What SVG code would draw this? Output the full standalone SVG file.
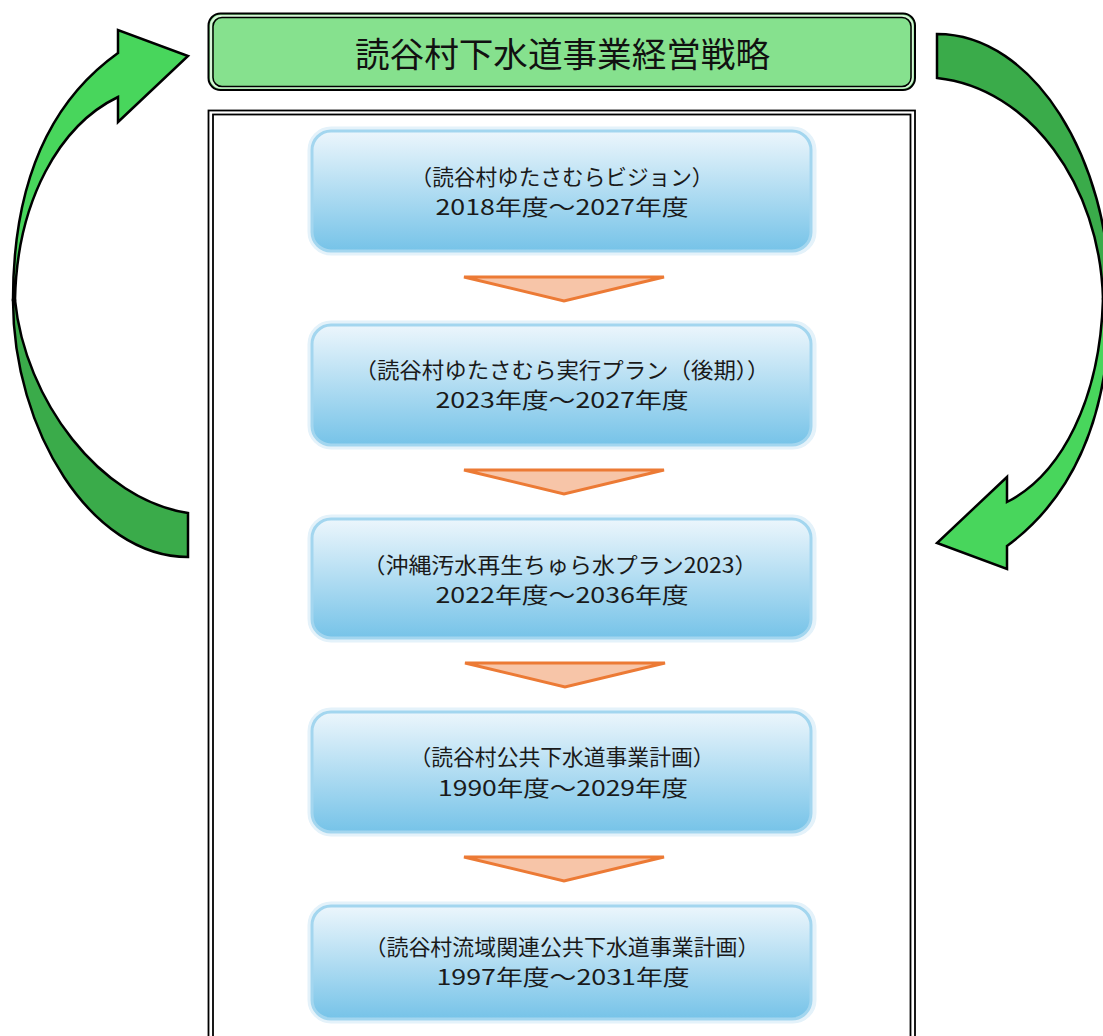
<svg xmlns="http://www.w3.org/2000/svg" width="1103" height="1036" viewBox="0 0 1103 1036">
<defs>
<linearGradient id="bg" x1="0" y1="0" x2="0" y2="1">
<stop offset="0" stop-color="#ecf6fc"/>
<stop offset="1" stop-color="#76c3e8"/>
</linearGradient>
<style>
.glow{fill:none;stroke:#e4f2fa;stroke-width:7}
.box{fill:url(#bg);stroke:#a3d6ef;stroke-width:3}
.t1{font-family:"Noto Sans CJK JP","Noto Sans",sans-serif;font-size:21.5px;fill:#1a1a1a;text-anchor:middle}
.tri{fill:#f7c5a8;stroke:#ec7a35;stroke-width:3;stroke-linejoin:miter}
.frame{fill:none;stroke:#000;stroke-width:1.8}
.arrL{fill:#48d65c;stroke:#000;stroke-width:2.5;stroke-linejoin:miter}
.arrD{fill:#3aab4a;stroke:#000;stroke-width:2.5;stroke-linejoin:miter}
</style>
</defs>
<rect width="1103" height="1036" fill="#fff"/>

<g id="frame">
<rect class="frame" x="208.5" y="110.5" width="706.5" height="940"/>
<rect class="frame" x="213" y="114.5" width="697.5" height="940"/>
</g>

<g id="cycle-arrows">
<g id="arrow-left">
<path class="arrD" d="M 13,300 C 13,430 91,557 188,557 L 188,513 C 100,500 25,400 15,300 Z"/>
<path class="arrL" d="M 118,53 L 118,30 L 188,56 L 118,122 L 118,97 C 60,125 17,200 15,300 L 13,300 C 13,190 45,105 118,53 Z"/>
</g>
<g id="arrow-right">
<path class="arrD" d="M 1110,299 C 1110,160 1034,34 937,34 L 937,78 C 1030,88 1100,185 1103,299 Z"/>
<path class="arrL" d="M 1007,546 L 1007,569 L 937,543 L 1007,477 L 1007,502 C 1062,474 1100,399 1103,299 L 1110,299 C 1110,420 1072,498 1007,546 Z"/>
</g>
</g>

<g id="title">
<rect x="208.5" y="13.5" width="706.5" height="76.5" rx="12" fill="#86e18e" stroke="#000" stroke-width="2"/>
<rect x="211" y="16" width="701.5" height="71.5" rx="10" fill="none" stroke="#d8f5d8" stroke-width="2"/>
<rect x="213" y="17.5" width="698" height="69" rx="9" fill="none" stroke="#000" stroke-width="1.5"/>
<text x="562.5" y="67" font-family="'Noto Sans CJK JP','Noto Sans',sans-serif" font-size="34" fill="#111" text-anchor="middle" textLength="415" lengthAdjust="spacingAndGlyphs">読谷村下水道事業経営戦略</text>
</g>

<g id="node1">
<rect class="glow" x="311" y="130" width="502" height="122" rx="20"/>
<rect class="box" x="312" y="131" width="499" height="120" rx="19"/>
<text class="t1" x="562" y="185" textLength="303" lengthAdjust="spacingAndGlyphs">（読谷村ゆたさむらビジョン）</text>
<text class="t1" x="562" y="215" textLength="253" lengthAdjust="spacingAndGlyphs">2018年度～2027年度</text>
</g>

<g id="node2">
<rect class="glow" x="311" y="324" width="502" height="122" rx="20"/>
<rect class="box" x="312" y="325" width="499" height="120" rx="19"/>
<text class="t1" x="562" y="378" textLength="415" lengthAdjust="spacingAndGlyphs">（読谷村ゆたさむら実行プラン（後期））</text>
<text class="t1" x="562" y="408" textLength="253" lengthAdjust="spacingAndGlyphs">2023年度～2027年度</text>
</g>

<g id="node3">
<rect class="glow" x="311" y="518" width="502" height="121" rx="20"/>
<rect class="box" x="312" y="519" width="499" height="119" rx="19"/>
<text class="t1" x="560" y="573" textLength="395" lengthAdjust="spacingAndGlyphs">（沖縄汚水再生ちゅら水プラン2023）</text>
<text class="t1" x="562" y="603" textLength="253" lengthAdjust="spacingAndGlyphs">2022年度～2036年度</text>
</g>

<g id="node4">
<rect class="glow" x="311" y="711" width="502" height="122" rx="20"/>
<rect class="box" x="312" y="712" width="499" height="120" rx="19"/>
<text class="t1" x="562" y="765" textLength="305" lengthAdjust="spacingAndGlyphs">（読谷村公共下水道事業計画）</text>
<text class="t1" x="563" y="796" textLength="250" lengthAdjust="spacingAndGlyphs">1990年度～2029年度</text>
</g>

<g id="node5">
<rect class="glow" x="311" y="905" width="502" height="115" rx="20"/>
<rect class="box" x="312" y="906" width="499" height="113" rx="19"/>
<text class="t1" x="562" y="955" textLength="395" lengthAdjust="spacingAndGlyphs">（読谷村流域関連公共下水道事業計画）</text>
<text class="t1" x="563" y="985" textLength="253" lengthAdjust="spacingAndGlyphs">1997年度～2031年度</text>
</g>

<g id="connectors">
<polygon class="tri" points="464,277 664,277 564,301"/>
<polygon class="tri" points="464,470 664,470 564,494"/>
<polygon class="tri" points="465,663 665,663 565,687"/>
<polygon class="tri" points="464,857 664,857 564,881"/>
</g>
</svg>
